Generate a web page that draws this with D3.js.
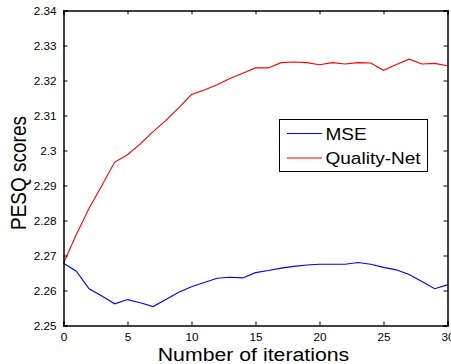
<!DOCTYPE html>
<html><head><meta charset="utf-8">
<script src="https://cdn.jsdelivr.net/npm/d3@7"></script>
<style>body{margin:0;background:#fff}svg{display:block}text{font-family:Arial,"Liberation Sans",sans-serif}</style>
</head><body>
<script>
const iterations = d3.range(0, 31);
const mse = [2.2678,2.2655,2.2605,2.2584,2.2562,2.2574,2.2565,2.2554,2.2574,2.2595,2.2611,2.2623,2.2635,2.2638,2.2636,2.2651,2.2657,2.2664,2.2669,2.2673,2.2675,2.2675,2.2675,2.2680,2.2675,2.2666,2.2659,2.2646,2.2626,2.2605,2.2616];
const qualityNet = [2.2678,2.2760,2.2835,2.2900,2.2967,2.2988,2.3019,2.3054,2.3086,2.3122,2.3160,2.3173,2.3188,2.3206,2.3221,2.3236,2.3236,2.3251,2.3253,2.3251,2.3245,2.3251,2.3247,2.3251,2.3250,2.3229,2.3246,2.3261,2.3247,2.3249,2.3242];
const xTicks = [0,5,10,15,20,25,30];
const yTicks = [2.25,2.26,2.27,2.28,2.29,2.30,2.31,2.32,2.33,2.34];
const yTickLabels = ["2.25","2.26","2.27","2.28","2.29","2.3","2.31","2.32","2.33","2.34"];
const seriesNames = ["MSE","Quality-Net"];
const seriesColors = ["#0000ff","#ff0000"];

const W=451,H=364, L=63.5, R=447.5, T=10.5, B=325.5, SX=1.12;
const svg=d3.select("body").append("svg").attr("width",W).attr("height",H);
const x=d3.scaleLinear().domain([0,30]).range([L,R]);
const y=d3.scaleLinear().domain([2.25,2.34]).range([B,T]);

const line=d3.line().x((d,i)=>x(iterations[i])).y(d=>y(d));
[mse,qualityNet].forEach((s,k)=>{
  svg.append("path").datum(s).attr("d",line).attr("fill","none").attr("stroke",seriesColors[k]).attr("stroke-width",1.1);
});

// axes (MATLAB box style, ticks inward)
const ax=d3.axisBottom(x).tickValues(xTicks).tickSize(-4).tickPadding(8);
const gx=svg.append("g").attr("transform",`translate(0,${B})`).call(ax);
const ay=d3.axisLeft(y).tickValues(yTicks).tickSize(-4).tickPadding(7).tickFormat((d,i)=>yTickLabels[i]);
const gy=svg.append("g").attr("transform",`translate(${L},0)`).call(ay);
const gt=svg.append("g").attr("transform",`translate(0,${T})`).call(d3.axisTop(x).tickValues(xTicks).tickSize(-4).tickFormat(""));
const gr=svg.append("g").attr("transform",`translate(${R},0)`).call(d3.axisRight(y).tickValues(yTicks).tickSize(-4).tickFormat(""));
[gx,gy,gt,gr].forEach(g=>{
  g.select(".domain").attr("stroke","#000").attr("stroke-width",1.5);
  g.selectAll(".tick line").attr("stroke","#000").attr("stroke-width",1);
});
function stretch(g){
  g.selectAll(".tick text").each(function(){
    const t=d3.select(this);
    t.attr("font-size",10.5).attr("font-family","Arial, 'Liberation Sans', sans-serif").attr("fill","#000");
  });
}
stretch(gx); stretch(gy);
gx.selectAll(".tick text").attr("transform",`scale(${SX},1)`).attr("x",0);
gy.selectAll(".tick text").attr("transform",`translate(-7,0) scale(${SX},1)`).attr("x",0).attr("dy","0.35em");

// axis labels
svg.append("text").attr("transform",`translate(${(L+R)/2-2},${361}) scale(${SX},1)`).attr("text-anchor","middle").attr("font-size",19).text("Number of iterations");
svg.append("text").attr("transform",`translate(${26},${173}) rotate(-90) scale(1,${SX})`).attr("text-anchor","middle").attr("font-size",19).text("PESQ scores");

// legend
const lg=svg.append("g");
lg.append("rect").attr("x",279.5).attr("y",119.5).attr("width",148).attr("height",52).attr("fill","#fff").attr("stroke","#000").attr("stroke-width",1);
seriesNames.forEach((n,i)=>{
  const yy=133.5+i*24.5;
  lg.append("line").attr("x1",287).attr("x2",322).attr("y1",yy).attr("y2",yy).attr("stroke",seriesColors[i]).attr("stroke-width",1.1);
  lg.append("text").attr("transform",`translate(325.5,${yy+6}) scale(${SX},1)`).attr("font-size",17).text(n);
});
</script>
</body></html>
